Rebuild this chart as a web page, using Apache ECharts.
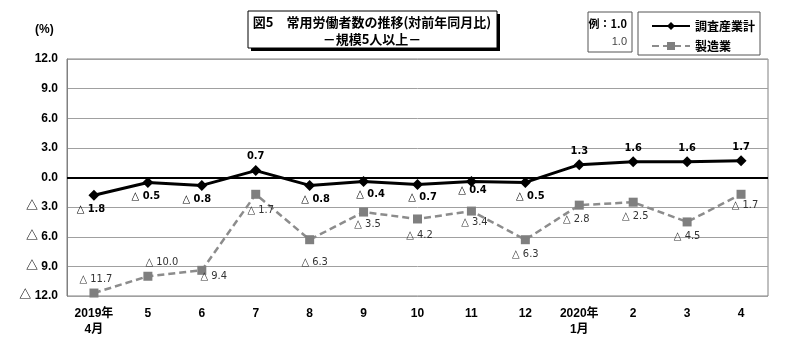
<!DOCTYPE html>
<html><head><meta charset="utf-8">
<script src="https://cdn.jsdelivr.net/npm/echarts@6/dist/echarts.min.js"></script>
<style>html,body{margin:0;padding:0;background:#fff}#c{width:800px;height:357px}</style>
</head><body><div id="c"></div>
<script>
var categories = ['2019年\n4月','5','6','7','8','9','10','11','12','2020年\n1月','2','3','4'];
var totalValues = [-1.8,-0.5,-0.8,0.7,-0.8,-0.4,-0.7,-0.4,-0.5,1.3,1.6,1.6,1.7];
var mfgValues = [-11.7,-10.0,-9.4,-1.7,-6.3,-3.5,-4.2,-3.4,-6.3,-2.8,-2.5,-4.5,-1.7];
var yTicks = [-12,-9,-6,-3,0,3,6,9,12];
var seriesNames = ['調査産業計','製造業'];

// label placement (style only)
var totalLabelPlace = [['bottom',[-3,0]],['bottom',[-2,0]],['bottom',[-5,0]],['top',[0,0]],['bottom',[6,0]],['bottom',[7,-1]],['bottom',[5,-1]],['bottom',[1,-5]],['bottom',[5,0]],['top',[0,0]],['top',[0,0]],['top',[0,0]],['top',[0,0]]];
var mfgLabelPlace = [['top',[2,0]],['top',[14,0]],['bottom',[12,-8]],['bottom',[5,2]],['bottom',[5,8]],['bottom',[4,-2]],['bottom',[2,2]],['bottom',[3,-3]],['bottom',[0,0]],['bottom',[-3,0]],['bottom',[2,0]],['bottom',[0,0]],['bottom',[4,-3]]];

function fmt(v){ return v < 0 ? '△ ' + Math.abs(v).toFixed(1) : v.toFixed(1); }

var chart = echarts.init(document.getElementById('c'), null, {renderer:'canvas'});
var numFont = "'Liberation Sans Narrow','DejaVu Sans Condensed','Liberation Sans',sans-serif";
var jpFont = "'Noto Sans CJK JP',sans-serif";
var axFont = "'Liberation Sans','Noto Sans CJK JP',sans-serif";

chart.setOption({
  animation:false,
  backgroundColor:'#fff',
  grid:{left:67,right:32,top:59,bottom:61,show:true,borderColor:'#808080',borderWidth:1},
  legend:{
    data:[{name:seriesNames[0]},{name:seriesNames[1]}],
    orient:'vertical', left:646, top:15, itemWidth:38, itemHeight:10, itemGap:8,
    textStyle:{fontFamily:jpFont,fontWeight:'bold',fontSize:12,color:'#000'}
  },
  xAxis:{
    type:'category', data:categories, boundaryGap:true,
    axisLine:{show:false}, axisTick:{show:false},
    axisLabel:{fontFamily:axFont,fontWeight:'bold',fontSize:12,color:'#000',margin:10,lineHeight:16}
  },
  yAxis:{
    type:'value', min:yTicks[0], max:yTicks[yTicks.length-1], interval:3,
    axisLine:{show:true,lineStyle:{color:'#808080'}}, axisTick:{show:false},
    splitLine:{show:true,lineStyle:{color:'#a0a0a0',width:1}},
    axisLabel:{fontFamily:axFont,fontWeight:'bold',fontSize:12,color:'#000',backgroundColor:'#fff',margin:9,
      formatter:function(v){return v<0?'△ '+Math.abs(v).toFixed(1):v.toFixed(1);}}
  },
  graphic:[
    {type:'text',left:35,top:24,style:{text:'(%)',fontFamily:"'Liberation Sans',sans-serif",fontWeight:'bold',fontSize:12,fill:'#000'}},
    {type:'rect',shape:{x:251,y:14,width:249,height:37},style:{fill:'#000'}},
    {type:'rect',shape:{x:248,y:11,width:249,height:37},style:{fill:'#fff',stroke:'#000',lineWidth:1}},
    {type:'text',x:372,y:22,style:{text:'図5　常用労働者数の推移(対前年同月比)',fontFamily:jpFont,fontWeight:'bold',fontSize:13,fill:'#000',align:'center',verticalAlign:'middle'}},
    {type:'text',x:372,y:39,style:{text:'－規模5人以上－',fontFamily:jpFont,fontWeight:'bold',fontSize:13,fill:'#000',align:'center',verticalAlign:'middle'}},
    {type:'rect',shape:{x:588,y:12,width:44,height:40},style:{fill:'#fff',stroke:'#555',lineWidth:1}},
    {type:'text',x:627,y:24,style:{text:'例：1.0',fontFamily:jpFont,fontWeight:'bold',fontSize:11,fill:'#000',align:'right',verticalAlign:'middle'}},
    {type:'text',x:627,y:42,style:{text:'1.0',fontFamily:"'Liberation Sans',sans-serif",fontSize:11,fill:'#444',align:'right',verticalAlign:'middle'}},
    {type:'rect',z:-1,shape:{x:638,y:12,width:122,height:43},style:{fill:'#fff',stroke:'#555',lineWidth:1}}
  ],
  series:[
    {
      name:seriesNames[0], type:'line', data:totalValues.map(function(v,i){
        return {value:v,label:{position:totalLabelPlace[i][0],offset:totalLabelPlace[i][1]}};
      }),
      symbol:'diamond', symbolSize:11, z:5,
      lineStyle:{color:'#000',width:3}, itemStyle:{color:'#000'},
      label:{show:true,distance:3,formatter:function(p){return fmt(p.value);},fontFamily:numFont,fontWeight:'bold',fontSize:11,color:'#000'},
      markLine:{silent:true,symbol:'none',label:{show:false},lineStyle:{color:'#000',width:2,type:'solid'},data:[{yAxis:0}]}
    },
    {
      name:seriesNames[1], type:'line', data:mfgValues.map(function(v,i){
        return {value:v,label:{position:mfgLabelPlace[i][0],offset:mfgLabelPlace[i][1]}};
      }),
      symbol:'rect', symbolSize:9, z:4,
      lineStyle:{color:'#8c8c8c',width:2.5,type:[7,4]}, itemStyle:{color:'#7f7f7f'},
      label:{show:true,distance:4,formatter:function(p){return fmt(p.value);},fontFamily:numFont,fontSize:11,color:'#333'}
    }
  ]
});
</script></body></html>
